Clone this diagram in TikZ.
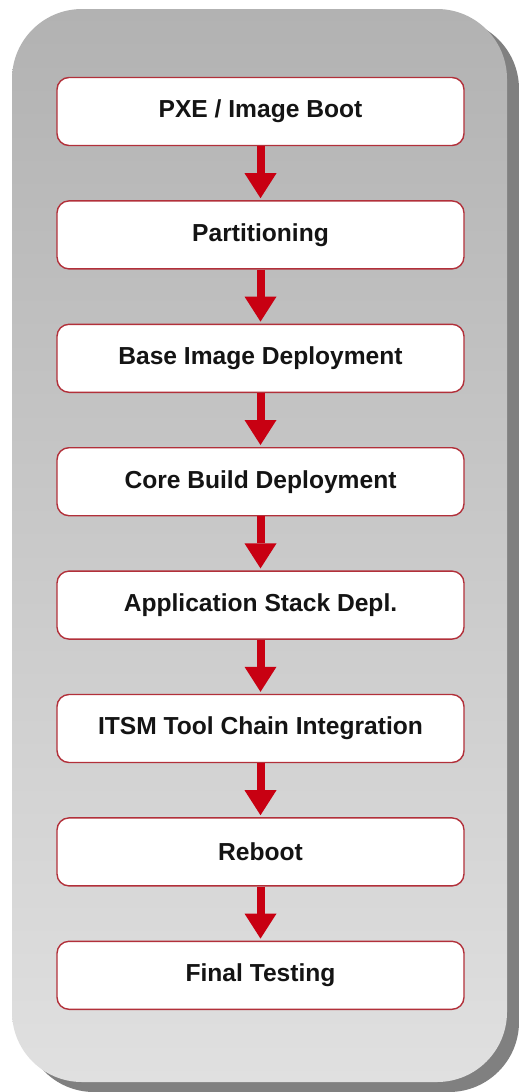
\documentclass[tikz,border=0pt]{standalone}
\usepackage{fontspec}
\setmainfont{Liberation Sans}
\usetikzlibrary{arrows.meta}
\definecolor{panelTop}{RGB}{178,178,178}
\definecolor{panelBot}{RGB}{224,224,224}
\definecolor{panelShadow}{RGB}{128,128,128}
\definecolor{boxEdge}{RGB}{178,48,58}
\definecolor{flowRed}{RGB}{200,0,18}
\definecolor{labelInk}{RGB}{20,20,20}
\tikzset{
  stepbox/.style={draw=boxEdge, line width=1.4pt, fill=white, rounded corners=12pt,
    minimum width=407pt, minimum height=68pt, inner sep=0pt,
    font=\fontsize{24.6}{29}\selectfont\bfseries, text=labelInk},
  flow/.style={draw=flowRed, line width=8pt,
    -{Triangle[width=32pt,length=25pt,line width=0pt,fill=flowRed]}, shorten >=2pt}
}
\begin{document}
\begin{tikzpicture}[x=1pt,y=1pt]
  \useasboundingbox (0,0) rectangle (519,-1092);
  % panel with drop shadow
  \fill[panelShadow, rounded corners=70pt] (24,-19) rectangle (519,-1092);
  \shade[top color=panelTop, bottom color=panelBot, rounded corners=70pt]
    (12,-9) rectangle (507,-1082);
  % process steps
  \node[stepbox] (b1) at (260.5,-111.5) {PXE / Image Boot};
  \node[stepbox] (b2) at (260.5,-234.9) {Partitioning};
  \node[stepbox] (b3) at (260.5,-358.3) {Base Image Deployment};
  \node[stepbox] (b4) at (260.5,-481.7) {Core Build Deployment};
  \node[stepbox] (b5) at (260.5,-605.1) {Application Stack Depl.};
  \node[stepbox] (b6) at (260.5,-728.5) {ITSM Tool Chain Integration};
  \node[stepbox] (b7) at (260.5,-851.9) {Reboot};
  \node[stepbox] (b8) at (260.5,-975.3) {Final Testing};
  % arrows between steps
  \foreach \a/\b in {b1/b2,b2/b3,b3/b4,b4/b5,b5/b6,b6/b7,b7/b8}
    \draw[flow] (\a.south) -- (\b.north);
\end{tikzpicture}
\end{document}
